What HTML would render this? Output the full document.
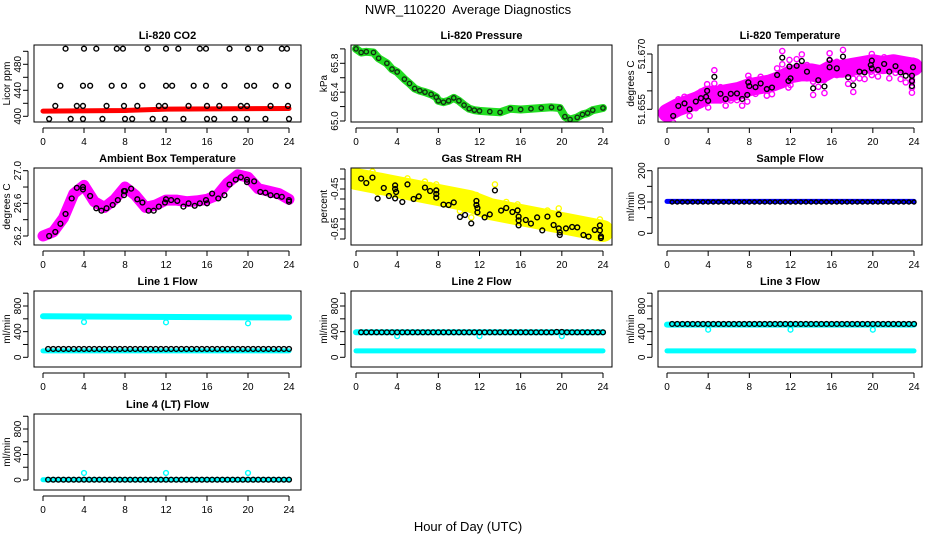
<!DOCTYPE html>
<html><head><meta charset="utf-8"><style>
html,body{margin:0;padding:0;background:#fff;}
svg{display:block;font-family:"Liberation Sans",sans-serif;}
</style></head><body>
<svg id="chart" width="936" height="540" viewBox="0 0 936 540" xmlns="http://www.w3.org/2000/svg">
<rect x="0" y="0" width="936" height="540" fill="#fff"/>
<text x="468" y="14" font-size="13" text-anchor="middle">NWR_110220&#160; Average Diagnostics</text>
<text x="468" y="531" font-size="13" text-anchor="middle">Hour of Day (UTC)</text>
</svg>
<script>
// ---------- data ----------
const xTicks = [0,4,8,12,16,20,24];
const hb = [0.5,1,1.5,2,2.5,3,3.5,4,4.5,5,5.5,6,6.5,7,7.5,8,8.5,9,9.5,10,10.5,11,11.5,12,12.5,13,13.5,14,14.5,15,15.5,16,16.5,17,17.5,18,18.5,19,19.5,20,20.5,21,21.5,22,22.5,23,23.5,24];
const hourly = [0,1,2,3,4,5,6,7,8,9,10,11,12,13,14,15,16,17,18,19,20,21,22,23,24];

// CO2
const co2Hours = [2.2,4.0,5.2,7.2,7.8,10.2,12.0,13.2,15.3,15.9,18.2,20.0,21.2,23.3,23.8, 1.7,3.9,4.6,6.7,7.9,9.7,12.0,12.6,14.7,15.9,17.7,19.9,20.6,22.7,23.9, 1.2,3.3,3.9,6.2,7.9,9.2,11.3,11.9,14.2,16.0,17.2,19.3,19.9,22.2,23.9, 0.6,2.7,3.9,5.8,8.0,8.7,10.7,11.9,13.7,16.0,16.7,18.7,19.9,21.7,24.0];
const co2Vals = [504,504,504,504,504,504,504,504,504,504,504,504,504,504,504, 447,447,447,447,447,447,447,447,447,447,447,447,447,447,447, 416,416,416,416,416,416,416,416,416,416,416,416,416,416,416, 396,396,396,396,396,396,396,396,396,396,396,396,396,396,396];
const co2BandHours = [0,8,12,24];
const co2BandVals = [408,409,411,412];

// Pressure
const presHours = [0,0.5,1,1.7,2.2,3,3.5,4,4.7,5.2,5.7,6.2,6.7,7.3,7.8,8,8.5,9,9.5,10,10.5,11,11.5,12,13,14,15,16,17,18,19,19.8,20.3,20.8,21.5,22,22.5,23,24];
const presVals = [66.0,65.95,65.96,65.95,65.87,65.8,65.72,65.68,65.58,65.52,65.45,65.42,65.4,65.37,65.33,65.28,65.26,65.28,65.32,65.28,65.22,65.17,65.15,65.14,65.13,65.12,65.17,65.16,65.17,65.18,65.19,65.18,65.06,65.02,65.05,65.09,65.11,65.15,65.18];

// Li-820 temperature
const tempHours = [0.6,1.1,1.7,2.2,2.8,3.3,3.8,3.9,4.0,4.6,5.2,5.7,6.2,6.8,7.3,7.8,7.9,8.0,8.6,9.1,9.7,10.2,10.7,11.2,11.8,11.9,12.0,12.6,13.1,13.6,14.2,14.7,15.3,15.8,15.8,16.5,17.1,17.6,18.1,18.7,19.2,19.8,19.9,19.9,20.5,21.1,21.6,22.2,22.7,23.2,23.8,23.8,23.8,23.9];
const tempVals = [51.6532,51.6559,51.6566,51.655,51.6571,51.658,51.6584,51.66,51.6573,51.6638,51.6592,51.6578,51.6592,51.6593,51.6578,51.6589,51.6623,51.6613,51.661,51.662,51.6605,51.6609,51.6643,51.669,51.6627,51.6666,51.6634,51.6668,51.6681,51.6652,51.6607,51.6629,51.6612,51.6684,51.6664,51.6661,51.6693,51.6637,51.6615,51.6652,51.665,51.667,51.6682,51.6661,51.6657,51.6673,51.6652,51.6667,51.665,51.6641,51.6641,51.6627,51.6613,51.6664];
const tempBand = [51.654,51.6555,51.6565,51.6575,51.659,51.659,51.6595,51.66,51.661,51.6615,51.662,51.663,51.6645,51.665,51.665,51.6645,51.666,51.666,51.6665,51.667,51.6675,51.667,51.6675,51.667,51.6665];

// Ambient box
const ambHours = [0.6,1.2,1.7,2.2,2.8,3.3,3.9,3.9,4.6,5.2,5.7,6.2,6.8,7.3,7.9,7.9,8.0,8.6,9.2,9.7,10.3,10.8,11.3,11.9,12.0,12.5,13.1,13.7,14.2,14.8,15.3,15.9,16.0,16.5,17.1,17.7,18.2,18.8,19.3,19.9,19.9,20.6,21.2,21.7,22.2,22.8,23.3,24.0,24.0];
const ambVals = [26.2,26.25,26.35,26.47,26.66,26.79,26.8,26.77,26.69,26.54,26.51,26.54,26.58,26.64,26.7,26.75,26.75,26.78,26.65,26.61,26.51,26.51,26.56,26.61,26.65,26.64,26.63,26.56,26.6,26.57,26.6,26.64,26.6,26.72,26.66,26.7,26.83,26.89,26.92,26.89,26.86,26.87,26.74,26.73,26.7,26.69,26.68,26.64,26.62];
const ambBand = [26.2,26.25,26.42,26.72,26.82,26.62,26.55,26.65,26.8,26.7,26.55,26.58,26.64,26.64,26.62,26.63,26.65,26.7,26.85,26.95,26.92,26.78,26.75,26.72,26.65];

// Gas stream RH
const rhHours = [0.5,1.0,1.6,2.1,2.7,3.2,3.8,3.8,3.8,3.9,4.5,5.0,5.6,6.1,6.7,7.2,7.8,7.8,7.8,8.5,9.0,9.5,10.1,10.6,11.2,11.7,11.7,11.8,11.8,12.5,13.0,13.5,14.1,14.6,15.2,15.7,15.8,15.8,15.8,16.5,17.0,17.6,18.1,18.6,19.2,19.7,19.7,19.8,19.8,20.4,21.0,21.5,22.1,22.6,23.2,23.7,23.7,23.8,23.8];
const rhVals = [-0.398,-0.42,-0.393,-0.498,-0.445,-0.485,-0.432,-0.45,-0.497,-0.465,-0.515,-0.427,-0.5,-0.487,-0.443,-0.46,-0.493,-0.457,-0.475,-0.528,-0.53,-0.517,-0.59,-0.58,-0.622,-0.51,-0.53,-0.545,-0.567,-0.592,-0.577,-0.457,-0.558,-0.545,-0.565,-0.557,-0.588,-0.607,-0.632,-0.605,-0.623,-0.592,-0.657,-0.588,-0.63,-0.577,-0.647,-0.667,-0.68,-0.647,-0.64,-0.642,-0.68,-0.688,-0.655,-0.632,-0.657,-0.687,-0.695];
const rhBand = [-0.40,-0.41,-0.42,-0.43,-0.44,-0.45,-0.46,-0.47,-0.48,-0.49,-0.50,-0.51,-0.53,-0.55,-0.56,-0.57,-0.58,-0.59,-0.60,-0.61,-0.62,-0.63,-0.64,-0.65,-0.66];

// Flows
const bandHours = [0,24];
const dipHours = [4,12,20];
const sampleBlack = [100,100,100,100,100,100,100,100,100,100,100,100,100,100,100,100,100,100,100,100,100,100,100,100,100,100,100,100,100,100,100,100,100,100,100,100,100,100,100,100,100,100,100,100,100,100,100,100];
const sampleBand = [102,102];
const l1Black = [130,130,130,130,130,130,130,130,130,130,130,130,130,130,130,130,130,130,130,130,130,130,130,130,130,130,130,130,130,130,130,130,130,130,130,130,130,130,130,130,130,130,130,130,130,130,130,130];
const l1BandHi = [640,620];
const l1BandLo = [100,100];
const l1Dips = [550,545,530];
const l2Black = [390,390,390,390,390,390,390,390,390,390,390,390,390,390,390,390,390,390,390,390,390,390,390,390,390,390,390,390,390,390,390,390,390,390,390,390,390,390,395,395,390,390,390,390,390,390,390,390];
const l2BandHi = [390,390];
const l2BandLo = [100,100];
const l2Dips = [330,330,330];
const l3Black = [520,520,520,520,520,520,520,520,520,520,520,520,520,520,520,520,520,520,520,520,520,520,520,520,520,520,520,520,520,520,520,520,520,520,520,520,520,520,520,520,520,520,520,520,520,520,520,520];
const l3BandHi = [510,510];
const l3BandLo = [100,100];
const l3Dips = [430,430,430];
const l4Black = [5,5,5,5,5,5,5,5,5,5,5,5,5,5,5,5,5,5,5,5,5,5,5,5,5,5,5,5,5,5,5,5,5,5,5,5,5,5,5,5,5,5,5,5,5,5,5,5];
const l4Band = [5,5];
const l4Bumps = [110,110,110];

// ---------- drawing ----------
const NS = 'http://www.w3.org/2000/svg';
const svg = document.getElementById('chart');
const cols = [[34,301,43,289],[351,612,356,603],[658,922,667,914]];
const rows = [[45,122],[168,245],[291,367],[414,490]];

function mk(tag, attrs, parent) {
  const e = document.createElementNS(NS, tag);
  for (const k in attrs) e.setAttribute(k, attrs[k]);
  (parent || svg).appendChild(e);
  return e;
}

function makePanel(c, r, key, title, ylab, va, ya, vb, yb, ticks, labels, fmt) {
  const [bx0, bx1, x0, x24] = cols[c];
  const [by0, by1] = rows[r];
  const g = mk('g', {});
  
  
  const xs = h => x0 + (x24 - x0) * h / 24;
  const ys = v => ya + (yb - ya) * (v - va) / (vb - va);
  const t = mk('text', {x: (bx0 + bx1) / 2, y: by0 - 6, 'font-size': 11, 'font-weight': 'bold', 'text-anchor': 'middle'}, g);
  t.textContent = title;
  
  
  const yl = mk('text', {x: 0, y: 0, 'font-size': 10, 'text-anchor': 'middle', transform: `translate(${bx0 - 24},${(by0 + by1) / 2}) rotate(-90)`}, g);
  yl.textContent = ylab;
  
  
  const xa = mk('g', {}, g);
  
  
  mk('line', {x1: xs(0), x2: xs(24), y1: by1 + 6, y2: by1 + 6, stroke: '#000', 'stroke-width': 1}, xa);
  xTicks.forEach(h => {
    mk('line', {x1: xs(h), x2: xs(h), y1: by1 + 6, y2: by1 + 11, stroke: '#000'}, xa);
    const tl = mk('text', {x: xs(h), y: by1 + 23, 'font-size': 10, 'text-anchor': 'middle'}, xa);
    tl.textContent = h;
    
    
  });
  const ya_ = mk('g', {}, g);
  
  
  mk('line', {x1: bx0 - 6, x2: bx0 - 6, y1: ys(ticks[0]), y2: ys(ticks[ticks.length - 1]), stroke: '#000'}, ya_);
  ticks.forEach(v => {
    mk('line', {x1: bx0 - 11, x2: bx0 - 6, y1: ys(v), y2: ys(v), stroke: '#000'}, ya_);
  });
  labels.forEach(v => {
    const tl = mk('text', {x: 0, y: 0, 'font-size': 10, 'text-anchor': 'middle', transform: `translate(${bx0 - 13},${ys(v)}) rotate(-90)`}, ya_);
    tl.textContent = fmt(v);
    
    
  });
  const plot = mk('g', {}, g);
  
  
  const cp = mk('clipPath', {id: 'cp' + key}, g);
  mk('rect', {x: bx0, y: by0, width: bx1 - bx0, height: by1 - by0}, cp);
  const inner = mk('g', {'clip-path': `url(#cp${key})`}, plot);
  const box = mk('rect', {x: bx0, y: by0, width: bx1 - bx0, height: by1 - by0, fill: 'none', stroke: '#000', 'stroke-width': 1}, g);
  
  
  return {xs, ys, g: inner};
}

function band(p, hours, vals, color, width, name) {
  const pts = hours.map((h, i) => p.xs(h).toFixed(1) + ',' + p.ys(vals[i]).toFixed(1)).join(' ');
  const pl = mk('polyline', {points: pts, fill: 'none', stroke: color, 'stroke-width': width, 'stroke-linejoin': 'round', 'stroke-linecap': 'round'}, p.g);
  
  
}
function points(p, hours, vals, color, name, r) {
  const grp = mk('g', {}, p.g);
  
  
  hours.forEach((h, i) => {
    const c = mk('circle', {cx: p.xs(h), cy: p.ys(vals[i]), r: r || 2.4, fill: 'none', stroke: color, 'stroke-width': 1.4}, grp);
    
    
  });
}
const f0 = v => String(v);

// Li-820 CO2
let p = makePanel(0, 0, 'co2', 'Li-820 CO2', 'Licor ppm', 400, 116.3, 480, 64.3, [400,420,440,460,480,500], [400,440,480], f0);
band(p, co2BandHours, co2BandVals, '#ff0000', 5, 'co2-red-band');
points(p, co2Hours, co2Vals, '#000', 'co2-black-series');

// Pressure
p = makePanel(1, 0, 'pressure', 'Li-820 Pressure', 'kPa', 65.0, 121, 65.8, 63.3, [65.0,65.2,65.4,65.6,65.8,66.0], [65.0,65.4,65.8], v => v.toFixed(1));
band(p, presHours, presVals, '#22dd22', 8, 'pressure-green-band');
points(p, presHours, presVals, '#113311', 'pressure-black-series', 2.2);

// Li-820 Temperature
p = makePanel(2, 0, 'temp', 'Li-820 Temperature', 'degrees C', 51.655, 109.3, 51.670, 54, [51.655,51.660,51.665,51.670], [51.655,51.670], v => v.toFixed(3));
band(p, hourly, tempBand, '#ff00ff', 18, 'temp-magenta-band');
points(p, tempHours, tempVals.map(v => v + 0.0018), '#ff00ff', 'temp-magenta-series', 2.6);
points(p, tempHours, tempVals.map(v => v - 0.0018), '#ff00ff', 'temp-magenta-series-low', 2.6);
points(p, tempHours, tempVals, '#000', 'temp-black-series');

// Ambient Box Temperature
p = makePanel(0, 1, 'ambient', 'Ambient Box Temperature', 'degrees C', 26.2, 236, 27.0, 170.7, [26.2,26.4,26.6,26.8,27.0], [26.2,26.6,27.0], v => v.toFixed(1));
band(p, hourly, ambBand, '#ff00ff', 11, 'ambient-magenta-band');
points(p, ambHours, ambVals, '#000', 'ambient-black-series');

// Gas Stream RH
p = makePanel(1, 1, 'rh', 'Gas Stream RH', 'percent', -0.45, 189, -0.65, 229, [-0.35,-0.40,-0.45,-0.50,-0.55,-0.60,-0.65,-0.70], [-0.45,-0.65], v => v.toFixed(2));
band(p, hourly, rhBand, '#ffff00', 22, 'rh-yellow-band');
points(p, rhHours, rhVals.map(v => v + 0.03), '#ffff00', 'rh-yellow-series', 2.6);
points(p, rhHours, rhVals, '#000', 'rh-black-series');

// Sample Flow
p = makePanel(2, 1, 'sample', 'Sample Flow', 'ml/min', 0, 233.3, 200, 170.7, [0,50,100,150,200], [0,100,200], f0);
band(p, bandHours, sampleBand, '#0000ff', 5, 'sample-blue-band');
points(p, hb, sampleBlack, '#000', 'sample-black-series', 2.0);

const fticks = [0,200,400,600,800,1000];
const flabels = [0,400,800];
// Line 1
p = makePanel(0, 2, 'line1', 'Line 1 Flow', 'ml/min', 0, 357.3, 800, 306, fticks, flabels, f0);
band(p, bandHours, l1BandHi, '#00ffff', 6, 'line1-cyan-high-band');
band(p, bandHours, l1BandLo, '#00ffff', 5, 'line1-cyan-low-band');
points(p, dipHours, l1Dips, '#00ffff', 'line1-cyan-dips');
points(p, hb, l1Black, '#000', 'line1-black-series');
// Line 2
p = makePanel(1, 2, 'line2', 'Line 2 Flow', 'ml/min', 0, 357.3, 800, 306, fticks, flabels, f0);
band(p, bandHours, l2BandHi, '#00ffff', 6, 'line2-cyan-high-band');
band(p, bandHours, l2BandLo, '#00ffff', 5, 'line2-cyan-low-band');
points(p, dipHours, l2Dips, '#00ffff', 'line2-cyan-dips');
points(p, hb, l2Black, '#000', 'line2-black-series');
// Line 3
p = makePanel(2, 2, 'line3', 'Line 3 Flow', 'ml/min', 0, 357.3, 800, 306, fticks, flabels, f0);
band(p, bandHours, l3BandHi, '#00ffff', 6, 'line3-cyan-high-band');
band(p, bandHours, l3BandLo, '#00ffff', 5, 'line3-cyan-low-band');
points(p, dipHours, l3Dips, '#00ffff', 'line3-cyan-dips');
points(p, hb, l3Black, '#000', 'line3-black-series');
// Line 4
p = makePanel(0, 3, 'line4', 'Line 4 (LT) Flow', 'ml/min', 0, 480, 800, 429, fticks, flabels, f0);
band(p, bandHours, l4Band, '#00ffff', 5, 'line4-cyan-band');
points(p, dipHours, l4Bumps, '#00ffff', 'line4-cyan-bumps');
points(p, hb, l4Black, '#000', 'line4-black-series');
</script>
</body></html>
